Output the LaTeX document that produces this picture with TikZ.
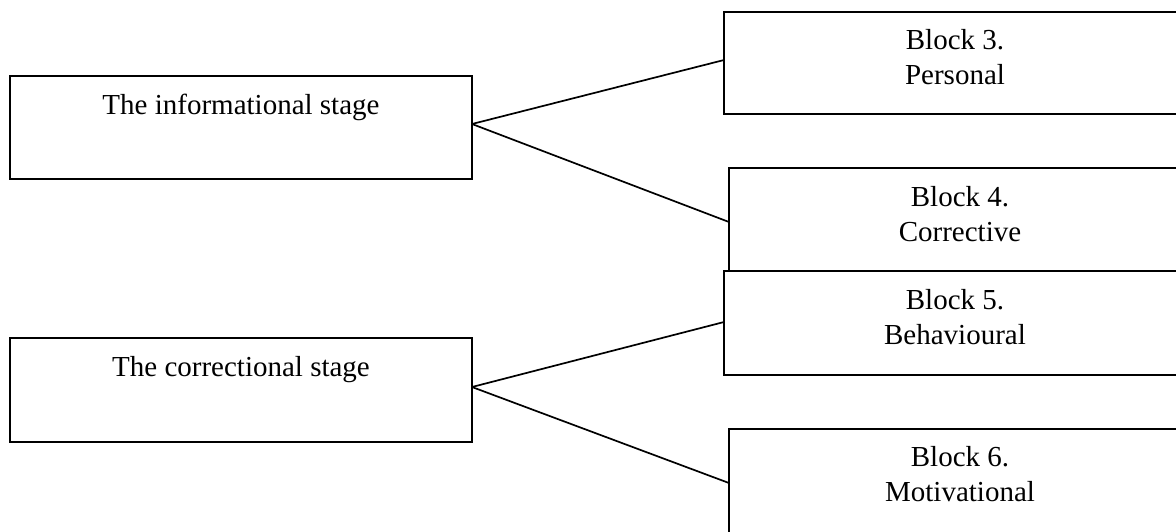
\documentclass[tikz,border=0pt]{standalone}
\usepackage{fontspec}
\setmainfont{Liberation Serif}
\usetikzlibrary{calc}
\definecolor{BoxClr}{rgb}{0,0,0}
\definecolor{LinkClr}{rgb}{0,0,0}

\begin{document}
\begin{tikzpicture}[x=0.5pt,y=-0.5pt,
  BoxShape/.style={draw=BoxClr,line width=1.2pt,fill=white,inner sep=0pt,outer sep=0pt,minimum width=231pt,anchor=north west},
  BoxText/.style={anchor=north,inner sep=0pt,align=center,font=\fontsize{14.5}{17.5}\selectfont},
  LinkLine/.style={line width=0.85pt,color=LinkClr}]
\useasboundingbox (0,0) rectangle (1176,531);
\clip (0,0) rectangle (1176,531);

% stages
\node[BoxShape,minimum height=51.5pt] (Info) at (10,76) {};
\node[BoxShape,minimum height=52pt] (Corr) at (10,338) {};

% blocks
\node[BoxShape,minimum height=51pt] (BlockC) at (724,12) {};
\node[BoxShape,minimum height=52pt] (BlockD) at (729,168) {};
\node[BoxShape,minimum height=52pt] (BlockE) at (724,271) {};
\node[BoxShape,minimum height=60pt] (BlockF) at (729,429) {};

\node[BoxText] (InfoTxt) at ($(Info.north)+(0,18)$) {The informational stage};
\node[BoxText] (CorrTxt) at ($(Corr.north)+(0,18)$) {The correctional stage};
\node[BoxText] (BlockCTxt) at ($(BlockC.north)+(0,17)$) {Block 3.\\Personal};
\node[BoxText] (BlockDTxt) at ($(BlockD.north)+(0,18)$) {Block 4.\\Corrective};
\node[BoxText] (BlockETxt) at ($(BlockE.north)+(0,18)$) {Block 5.\\Behavioural};
\node[BoxText] (BlockFTxt) at ($(BlockF.north)+(0,17)$) {Block 6.\\Motivational};

% links
\draw[LinkLine] ([yshift=1.75pt]Info.east) -- ([yshift=1.5pt]BlockC.west);
\draw[LinkLine] ([yshift=1.75pt]Info.east) -- ([yshift=-1pt]BlockD.west);
\draw[LinkLine] ([yshift=1.5pt]Corr.east) -- ([yshift=0.5pt]BlockE.west);
\draw[LinkLine] ([yshift=1.5pt]Corr.east) -- ([yshift=3pt]BlockF.west);

\end{tikzpicture}
\end{document}
